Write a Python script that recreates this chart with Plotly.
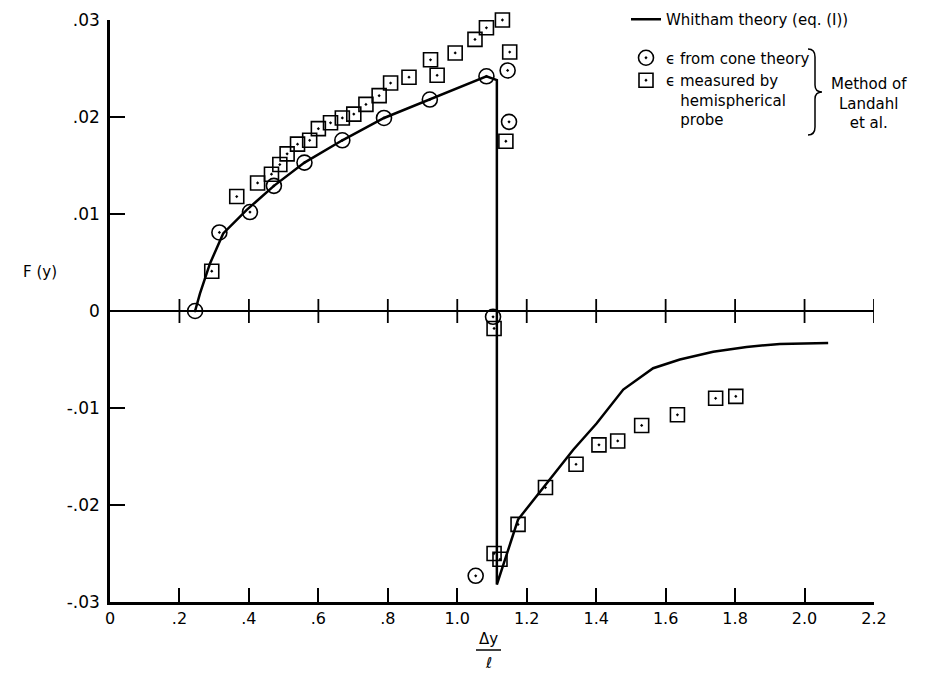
import plotly.graph_objects as go

# ---------------- data ----------------
# Whitham theory curve (eq. (1))
whitham_x = [0.245, 0.259, 0.288, 0.326, 0.393, 0.472, 0.560, 0.669, 0.789, 0.921, 1.084, 1.114,
             1.114, 1.175, 1.254, 1.334, 1.401, 1.478, 1.564, 1.641, 1.737, 1.833, 1.929, 2.068]
whitham_y = [0.0, 0.0018, 0.0049, 0.0080, 0.0104, 0.0129, 0.0153, 0.0176, 0.0199, 0.0218, 0.0242, 0.0238,
             -0.0282, -0.0215, -0.0179, -0.0143, -0.0116, -0.0081, -0.0059, -0.0050, -0.0042, -0.0037,
             -0.0034, -0.0033]

# epsilon from cone theory (circles)
cone_x = [0.245, 0.315, 0.403, 0.472, 0.560, 0.669, 0.789, 0.921, 1.084, 1.145, 1.149, 1.103, 1.053]
cone_y = [0.0, 0.0081, 0.0102, 0.0129, 0.0153, 0.0176, 0.0199, 0.0218, 0.0242, 0.0248, 0.0195, -0.0006, -0.0273]

# epsilon measured by hemispherical probe (squares)
probe_x = [0.293, 0.365, 0.425, 0.465, 0.489, 0.510, 0.540, 0.575, 0.600, 0.635, 0.669, 0.702, 0.737,
           0.775, 0.808, 0.861, 0.923, 0.942, 0.994, 1.051, 1.084, 1.130, 1.151, 1.140, 1.106, 1.106,
           1.123, 1.175, 1.254, 1.342, 1.408, 1.462, 1.531, 1.634, 1.744, 1.802]
probe_y = [0.0041, 0.0118, 0.0132, 0.0141, 0.0151, 0.0162, 0.0172, 0.0176, 0.0188, 0.0194, 0.0199, 0.0203,
           0.0213, 0.0222, 0.0235, 0.0241, 0.0259, 0.0243, 0.0266, 0.0280, 0.0292, 0.0300, 0.0267, 0.0175,
           -0.0018, -0.0250, -0.0256, -0.0220, -0.0182, -0.0158, -0.0138, -0.0134, -0.0118, -0.0107,
           -0.0090, -0.0088]

x_tickvals = [0, 0.2, 0.4, 0.6, 0.8, 1.0, 1.2, 1.4, 1.6, 1.8, 2.0, 2.2]
x_ticktext = ["0", ".2", ".4", ".6", ".8", "1.0", "1.2", "1.4", "1.6", "1.8", "2.0", "2.2"]
y_tickvals = [-0.03, -0.02, -0.01, 0, 0.01, 0.02, 0.03]
y_ticktext = ["-.03", "-.02", "-.01", "0", ".01", ".02", ".03"]

# ---------------- layout geometry ----------------
W, H = 933, 678
ML, MR, MT, MB = 110, 59, 20, 76
PW, PH = W - ML - MR, H - MT - MB


def px(x):
    return (x - ML) / PW


def py(y):
    return (H - MB - y) / PH


FONT = "DejaVu Sans"
TXT = dict(size=15, family=FONT, color="black")

fig = go.Figure()
fig.add_trace(go.Scatter(
    x=whitham_x, y=whitham_y, mode="lines",
    line=dict(color="black", width=2.5),
    name="Whitham theory (eq. (I))", legendgroup="a", cliponaxis=False,
))
fig.add_trace(go.Scatter(
    x=cone_x, y=cone_y, mode="markers", cliponaxis=False,
    marker=dict(symbol="circle-open-dot", size=15, color="black", line=dict(width=1.6)),
    name="\u03f5 from cone theory", legendgroup="b",
))
fig.add_trace(go.Scatter(
    x=probe_x, y=probe_y, mode="markers", cliponaxis=False,
    marker=dict(symbol="square-open-dot", size=14, color="black", line=dict(width=1.6)),
    name="\u03f5 measured by<br>\u00a0\u00a0\u00a0hemispherical<br>\u00a0\u00a0\u00a0probe", legendgroup="b",
))

shapes = []
# cross ticks on the zero line
for t in x_tickvals[1:]:
    shapes.append(dict(type="line", xref="x", yref="y", x0=t, x1=t,
                       ysizemode="pixel", yanchor=0, y0=-12, y1=12,
                       line=dict(color="black", width=1.8)))
# fraction bar of the x title
shapes.append(dict(type="line", xref="paper", yref="paper",
                   x0=px(476), x1=px(501), y0=py(650), y1=py(650),
                   line=dict(color="black", width=1.5)))
# brace in the legend
brace = (f"M {px(808)},{py(49)} Q {px(815)},{py(49)} {px(815)},{py(57)} "
         f"L {px(815)},{py(85)} Q {px(815)},{py(92)} {px(822)},{py(92)} "
         f"Q {px(815)},{py(92)} {px(815)},{py(99)} "
         f"L {px(815)},{py(127)} Q {px(815)},{py(135)} {px(808)},{py(135)}")
shapes.append(dict(type="path", xref="paper", yref="paper", path=brace,
                   line=dict(color="black", width=1.5)))


def ann(text, x, y, **kw):
    d = dict(text=text, xref="paper", yref="paper", x=px(x), y=py(y),
             xanchor="center", yanchor="middle", showarrow=False, font=TXT)
    d.update(kw)
    return d


annotations = [
    ann("F (y)", 40, 272),
    ann("\u0394y", 488, 639),
    ann("\u2113", 488, 663),
    ann("Method of<br>Landahl<br>et al.", 869, 103, align="center"),
]

fig.update_layout(
    width=W, height=H,
    margin=dict(l=ML, r=MR, t=MT, b=MB, pad=0, autoexpand=False),
    paper_bgcolor="white", plot_bgcolor="white",
    font=dict(family=FONT, size=15, color="black"),
    showlegend=True,
    legend=dict(x=px(626), y=py(3), xanchor="left", yanchor="top",
                bgcolor="rgba(0,0,0,0)", tracegroupgap=16, valign="top",
                font=TXT, itemwidth=30),
    shapes=shapes,
    annotations=annotations,
    xaxis=dict(range=[0, 2.2], tickvals=x_tickvals, ticktext=x_ticktext,
               showgrid=False, zeroline=False, showline=True, linecolor="black", linewidth=2.5,
               ticks="inside", ticklen=14, tickwidth=2, tickcolor="black",
               tickfont=dict(size=16, family=FONT, color="black")),
    yaxis=dict(range=[-0.03, 0.03], tickvals=y_tickvals, ticktext=y_ticktext,
               showgrid=False, zeroline=True, zerolinecolor="black", zerolinewidth=1.5,
               showline=True, linecolor="black", linewidth=2.5,
               ticks="inside", ticklen=15, tickwidth=2, tickcolor="black",
               ticklabelstandoff=4,
               tickfont=dict(size=17, family=FONT, color="black")),
)

fig.write_html("out.html")
